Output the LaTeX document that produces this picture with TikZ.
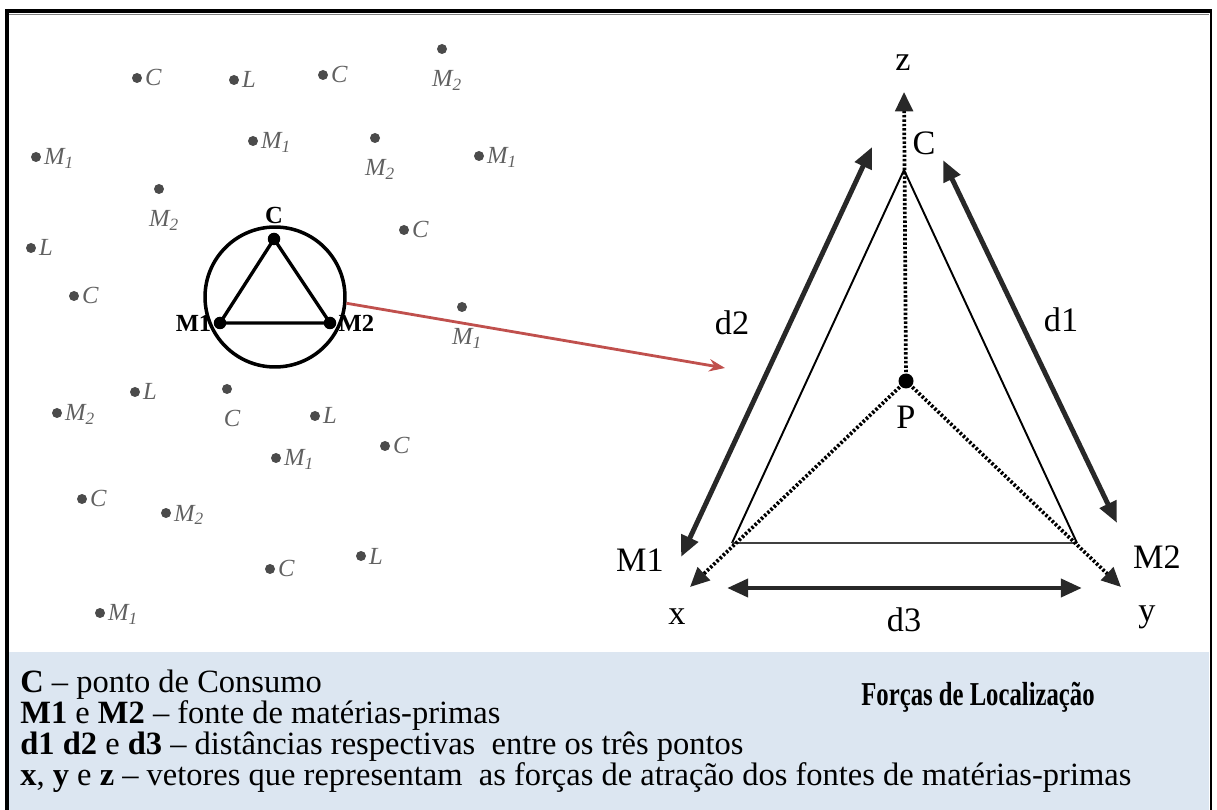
\documentclass[tikz,border=0pt]{standalone}
\usepackage{fontspec}
\setmainfont{Liberation Serif}
\newfontfamily\titlefont{Liberation Serif Bold}[FakeStretch=0.74]
\usetikzlibrary{positioning,arrows.meta,calc}
\definecolor{legendblue}{RGB}{220,230,241}
\definecolor{linkred}{RGB}{192,80,77}
\definecolor{arrowgray}{RGB}{40,40,40}
\definecolor{scatgray}{RGB}{75,75,75}
\newcommand{\Msub}[1]{M\textsubscript{#1}}

\begin{document}
\begin{tikzpicture}[x=0.02cm, y=-0.02cm, >=Stealth,
  every node/.style={inner sep=1pt},
  spot/.style={circle, fill=scatgray, inner sep=0, minimum size=0.2cm},
  spotlbl/.style={text=black!62, font=\itshape\fontsize{14}{14}\selectfont},
  vert/.style={circle, fill=black, inner sep=0, minimum size=0.25cm},
  ringlbl/.style={font=\bfseries\fontsize{14}{14}\selectfont},
  biglbl/.style={font=\fontsize{19.5}{22}\selectfont},
  side/.style={line width=1.1pt},
  dist/.style={{Triangle[length=12pt,width=10pt]}-{Triangle[length=12pt,width=10pt]},
               line width=2.8pt, arrowgray},
  force/.style={-{Triangle[length=11pt,width=10pt,fill=arrowgray,color=arrowgray]},
                line width=2.1pt, dash pattern=on 1.4pt off 1.1pt}]
  \useasboundingbox (0,0) rectangle (1217,810);

  % legend band and frame
  \fill[legendblue] (9,652) rectangle (1209,812);
  \draw[line width=0.07cm] (5,11) -- (1212,11);
  \draw[gray, line width=0.02cm] (9,15) -- (1209,15);
  \draw[line width=0.08cm] (7,9) -- (7,830);
  \draw[line width=0.04cm] (1211,11) -- (1211,830);

  % scattered points, label on the right
  \foreach \x/\y/\t [count=\i] in {137/78/C, 234/80/L, 323/75/C, 36/157/\Msub{1},
      253/141/\Msub{1}, 479/156/\Msub{1}, 404/230/C, 31/248/L, 74/296/C,
      135/392/L, 57/413/\Msub{2}, 315/416/L, 385/446/C, 276/458/\Msub{1},
      82/499/C, 166/513/\Msub{2}, 361/556/L, 270/569/C, 100/613/\Msub{1}} {
    \node[spot] (sr\i) at (\x,\y) {};
    \node[spotlbl, anchor=base west] (srl\i) at ($(sr\i)+(6,8)$) {\t};
  }
  % scattered points, label below
  \foreach \x/\y/\t [count=\i] in {442/49/\Msub{2}, 375/138/\Msub{2},
      159/189/\Msub{2}, 462/307/\Msub{1}, 227/389/C} {
    \node[spot] (sb\i) at (\x,\y) {};
    \node[spotlbl, anchor=base] (sbl\i) at ($(sb\i)+(5,38)$) {\t};
  }

  % small triangle in the circle
  \node[circle, draw, line width=2pt, minimum size=2.8cm, inner sep=0] (ring) at (275,297) {};
  \node[vert] (tC) at (274,239) {};
  \node[vert] (tM1) at (220,323) {};
  \node[vert] (tM2) at (330,323) {};
  \draw[line width=1.9pt] (tC.center) -- (tM1.center) -- (tM2.center) -- cycle;
  \node[ringlbl, above=4pt of tC] (tCl) {C};
  \node[ringlbl, left=0pt of tM1] (tM1l) {M1};
  \node[ringlbl, right=0pt of tM2] (tM2l) {M2};

  \coordinate (redtip) at (725,368);
  \draw[linkred, line width=1.6pt, -{Stealth[length=9pt,width=7pt]}] (ring.-5) -- (redtip);

  % Weber triangle
  \coordinate (vC) at (904,170);
  \coordinate (vM1) at (732,543);
  \coordinate (vM2) at (1077,543);
  \draw[side] (vC) -- (vM1);
  \draw[side] (vC) -- (vM2);
  \draw[line width=1.7pt, black!75] (vM1) -- (vM2);

  \node[circle, fill=black, minimum size=0.3cm, inner sep=0] (P) at (906,381) {};
  \coordinate (zt) at (904,92);
  \coordinate (xt) at (690,587);
  \coordinate (yt) at (1121,587);
  \draw[force] (P.center) -- (zt);
  \draw[force] (P.center) -- (xt);
  \draw[force] (P.center) -- (yt);

  \coordinate (d2a) at (681,557);  \coordinate (d2b) at (872,147);
  \coordinate (d1a) at (943,160);  \coordinate (d1b) at (1117,523);
  \coordinate (d3a) at (727,588);  \coordinate (d3b) at (1082,588);
  \draw[dist] (d2a) -- (d2b);
  \draw[dist] (d1a) -- (d1b);
  \draw[dist] (d3a) -- (d3b);

  \node[biglbl] (lz) at (903,63) {z};
  \node[biglbl] (lC) at (924,143) {C};
  \node[biglbl] (ld2) at (732,323) {d2};
  \node[biglbl] (ld1) at (1061,320) {d1};
  \node[biglbl] (lP) at (906,417) {P};
  \node[biglbl] (lM1) at (640,560) {M1};
  \node[biglbl] (lM2) at (1157,557) {M2};
  \node[biglbl] (lx) at (677,617) {x};
  \node[biglbl] (ly) at (1147,617) {y};
  \node[biglbl] (ld3) at (904,620) {d3};

  % legend
  \node[anchor=north west, align=left, inner sep=0,
        font=\fontsize{18.5}{17.5}\selectfont] (legend) at (20,670)
      {\textbf{C} – ponto de Consumo\\
       \textbf{M1} e \textbf{M2} – fonte de matérias-primas\\
       \textbf{d1 d2} e \textbf{d3} – distâncias respectivas\ \ entre os três pontos\\
       \textbf{x}, \textbf{y} e \textbf{z} – vetores que representam\ \ as forças de atração dos fontes de matérias-primas};
  \node[font=\titlefont\fontsize{19}{20}\selectfont] (title) at (978,697) {Forças de Localização};
\end{tikzpicture}
\end{document}
